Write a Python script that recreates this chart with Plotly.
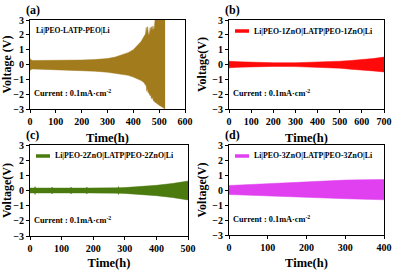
import plotly.graph_objects as go

# ---------------- data (envelopes of the cycling voltage) ----------------
a_t = [0, 3, 10, 50, 100, 150, 200, 250, 300, 330, 360, 380, 400, 415, 430, 440, 447, 450, 452, 455,
       457, 459, 462, 465, 467, 470, 473, 476, 478, 481, 484, 490, 500, 510, 518, 523]
a_hi = [0.42, 0.32, 0.27, 0.27, 0.28, 0.29, 0.3, 0.33, 0.4, 0.5, 0.65, 0.8, 1.0, 1.25, 1.55, 1.85, 2.05, 2.5, 2.1, 2.55,
        2.2, 2.0, 2.05, 2.5, 2.2, 2.55, 2.3, 2.6, 2.35, 2.45, 3.0, 3.0, 3.0, 3.0, 3.0, 3.0]
a_lo = [-0.42, -0.33, -0.3, -0.32, -0.34, -0.37, -0.4, -0.45, -0.52, -0.58, -0.66, -0.73, -0.85, -0.95, -1.08, -1.2, -1.35, -1.45, -1.8, -1.6,
        -1.9, -1.85, -2.0, -2.1, -2.0, -2.3, -2.2, -2.4, -2.45, -2.5, -2.55, -2.6, -2.75, -2.85, -2.95, -3.0]

b_t = [0, 3, 50, 100, 200, 300, 400, 500, 550, 600, 650, 700]
b_hi = [0.25, 0.22, 0.18, 0.15, 0.12, 0.12, 0.15, 0.22, 0.27, 0.32, 0.4, 0.5]
b_lo = [-0.25, -0.22, -0.18, -0.15, -0.13, -0.14, -0.18, -0.25, -0.32, -0.36, -0.43, -0.5]

c_t = [0, 14, 16, 18, 50, 68, 70, 72, 100, 128, 130, 132, 178, 180, 182, 250, 278, 280, 282, 300, 350, 400, 450, 500]
c_hi = [0.16, 0.16, 0.26, 0.16, 0.16, 0.16, 0.23, 0.16, 0.16, 0.16, 0.23, 0.16, 0.16, 0.23, 0.16, 0.17, 0.18, 0.26, 0.18, 0.19, 0.26, 0.34, 0.46, 0.62]
c_lo = [-0.16, -0.16, -0.26, -0.16, -0.16, -0.16, -0.23, -0.16, -0.16, -0.16, -0.23, -0.16, -0.16, -0.23, -0.16, -0.17, -0.18, -0.26, -0.18, -0.19, -0.26, -0.34, -0.46, -0.62]

d_t = [0, 50, 100, 150, 200, 250, 300, 350, 400]
d_hi = [0.3, 0.36, 0.42, 0.5, 0.56, 0.62, 0.66, 0.69, 0.7]
d_lo = [-0.3, -0.35, -0.42, -0.46, -0.5, -0.55, -0.58, -0.62, -0.65]

x_ranges = [600, 700, 500, 400]
y_ticks = [-3, -2, -1, 0, 1, 2, 3]
names = ["Li|PEO-LATP-PEO|Li", "Li|PEO-1ZnO|LATP|PEO-1ZnO|Li",
         "Li|PEO-2ZnO|LATP|PEO-2ZnO|Li", "Li|PEO-3ZnO|LATP|PEO-3ZnO|Li"]
panel_labels = ["(a)", "(b)", "(c)", "(d)"]
y_titles = ["Voltage (V)", "Voltage(V)", "Voltage(V)", "Voltage(V)"]
colors = ["#A27B1C", "#FF0A0A", "#4B7A0F", "#E040F0"]

series = [(a_t, a_hi, a_lo), (b_t, b_hi, b_lo), (c_t, c_hi, c_lo), (d_t, d_hi, d_lo)]

W, H = 393, 270
# plot-area pixel boxes (x0, x1, ytop, ybottom)
boxes = [(30, 185, 20, 109), (229, 384, 20, 109), (30, 188, 145, 236), (229, 384, 145, 235)]

FONT = "Liberation Serif"
fig = go.Figure()

for i, ((t, hi, lo), col) in enumerate(zip(series, colors)):
    xa = "x" if i == 0 else f"x{i+1}"
    ya = "y" if i == 0 else f"y{i+1}"
    fig.add_trace(go.Scatter(x=t, y=hi, mode="lines", line=dict(color=col, width=0.5),
                             showlegend=False, xaxis=xa, yaxis=ya, hoverinfo="skip"))
    fig.add_trace(go.Scatter(x=t, y=lo, mode="lines", line=dict(color=col, width=0.5),
                             fill="tonexty", fillcolor=col, showlegend=False,
                             xaxis=xa, yaxis=ya, hoverinfo="skip"))

layout = dict(width=W, height=H, margin=dict(l=0, r=0, t=0, b=0, autoexpand=False),
              paper_bgcolor="white", plot_bgcolor="white", showlegend=False)

annotations = []
shapes = []
for i, (x0, x1, yt, yb) in enumerate(boxes):
    sfx = "" if i == 0 else str(i + 1)
    dom_x = [x0 / W, x1 / W]
    dom_y = [1 - yb / H, 1 - yt / H]
    layout[f"xaxis{sfx}"] = dict(domain=dom_x, range=[0, x_ranges[i]], dtick=100, tick0=0,
                                 showgrid=False, zeroline=False, showline=True, mirror=True,
                                 linecolor="black", linewidth=1, ticks="outside", ticklen=3,
                                 tickcolor="black", anchor=f"y{sfx}", automargin=False,
                                 tickfont=dict(family=FONT, size=10, color="black", weight="bold"),
                                 title=dict(text="<b>Time(h)</b>", standoff=7,
                                            font=dict(family=FONT, size=12.5, color="black")))
    layout[f"yaxis{sfx}"] = dict(domain=dom_y, range=[-3, 3], tickvals=y_ticks,
                                 showgrid=False, zeroline=False, showline=True, mirror=True,
                                 linecolor="black", linewidth=1, ticks="outside", ticklen=3,
                                 tickcolor="black", anchor=f"x{sfx}", automargin=False,
                                 tickfont=dict(family=FONT, size=10, color="black", weight="bold"),
                                 title=dict(text=f"<b>{y_titles[i]}</b>", standoff=3,
                                            font=dict(family=FONT, size=12, color="black")))
    # panel labels
    annotations.append(dict(text=f"<b>{panel_labels[i]}</b>", xref="paper", yref="paper",
                            x=(x0 - 6) / W, y=1 - (yt - 10) / H, xanchor="left", yanchor="middle",
                            showarrow=False, font=dict(family=FONT, size=12, color="black")))
    # current label
    annotations.append(dict(text="<b>Current : 0.1mA·cm<sup>-2</sup></b>", xref="paper", yref="paper",
                            x=(x0 + 2) / W, y=1 - (yb - 16) / H, xanchor="left", yanchor="middle",
                            showarrow=False, font=dict(family=FONT, size=8.3, color="black")))
    if i == 0:
        annotations.append(dict(text=f"<b>{names[0]}</b>", xref="paper", yref="paper",
                                x=(x0 + 4) / W, y=1 - (yt + 10) / H, xanchor="left", yanchor="middle",
                                showarrow=False, font=dict(family=FONT, size=7.6, color="black")))
    else:
        # legend key: short thick line + label
        ly = 1 - (yt + 11) / H
        shapes.append(dict(type="line", xref="paper", yref="paper",
                           x0=(x0 + 6) / W, x1=(x0 + 20) / W, y0=ly, y1=ly,
                           line=dict(color=colors[i], width=3.5)))
        annotations.append(dict(text=f"<b>{names[i]}</b>", xref="paper", yref="paper",
                                x=(x0 + 23) / W, y=ly, xanchor="left", yanchor="middle",
                                showarrow=False, font=dict(family=FONT, size=7.8, color="black")))

layout["annotations"] = annotations
layout["shapes"] = shapes
fig.update_layout(**layout)
fig.write_html("out.html", config={"displayModeBar": False},
               post_script="document.body.style.margin='0';document.body.style.overflow='hidden';")
